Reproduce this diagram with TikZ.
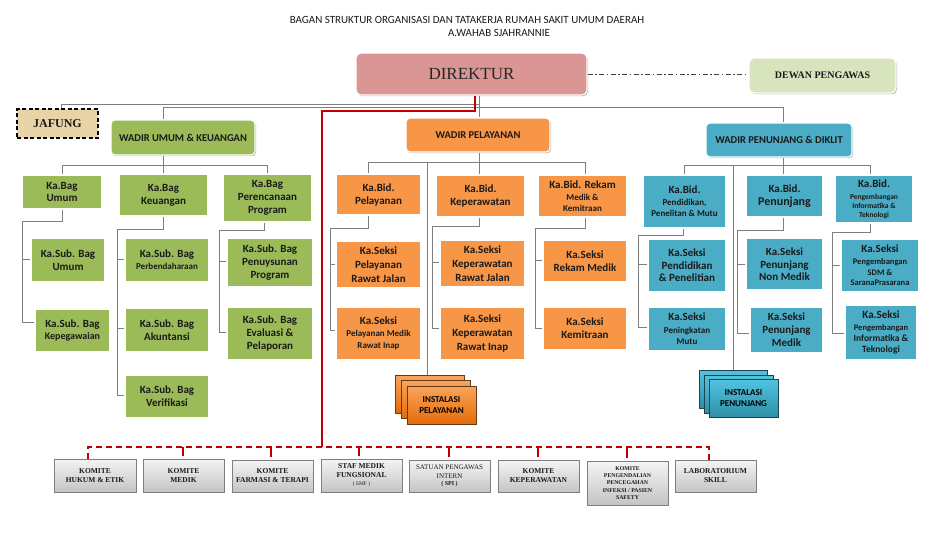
\documentclass[tikz,border=0pt]{standalone}
\usepackage{fontspec}
\setmainfont{Liberation Serif}
\newfontfamily\calfont{Carlito}
\usetikzlibrary{shadows,calc}
\definecolor{cgreen}{HTML}{9BBB59}
\definecolor{corange}{HTML}{F79646}
\definecolor{cteal}{HTML}{4BACC6}
\definecolor{cpink}{HTML}{D99694}
\definecolor{clgreen}{HTML}{D7E4BD}
\definecolor{ctan}{HTML}{E8D4A6}
\definecolor{cline}{HTML}{7F7F7F}
\definecolor{cred}{HTML}{C00000}
\definecolor{ctxt}{HTML}{1A1A1A}
\definecolor{cgtop}{HTML}{F4F4F4}
\definecolor{cgbot}{HTML}{C4C4C4}
\definecolor{cotop}{HTML}{FAA45A}
\definecolor{cobot}{HTML}{E46C0A}
\definecolor{cttop}{HTML}{52C4E0}
\definecolor{ctbot}{HTML}{2E8FA8}
\newcommand\fs[2]{\fontsize{#1}{#2}\selectfont}
\newcommand\sm{\bfseries\fs{9}{11}}
\newcommand\smm{\bfseries\fs{8.5}{10}}
\newcommand\xs{\bfseries\fs{7.5}{9}}
\newcommand\bx[7]{\node[#6, minimum width={#4-#2}, minimum height={#5-#3}] (#1) at ({(#2+#4)/2},{(#3+#5)/2}) {#7};}
\newcommand\grp[5]{%
  \coordinate (J1) at (#2,#3); \coordinate (J2) at (#4,#3);
  \draw[conn] (J1 |- #1.south) -- (J1) -- (J2);
  \foreach \cn/\yy in {#5}{\coordinate (B) at (#4,\yy); \draw[conn] (J2) -- (B) -- (B -| \cn.west);}
}
\tikzset{
  shad/.style={drop shadow={shadow xshift=1pt, shadow yshift=-1.2pt, opacity=0.3, fill=black}},
  base/.style={rectangle, draw=white, line width=1.2pt, inner sep=1pt, align=center, text=ctxt, font=\calfont\bfseries\fs{11}{13}, shad},
  gbox/.style={base, fill=cgreen},
  obox/.style={base, fill=corange},
  tbox/.style={base, fill=cteal},
  wbox/.style={base, rounded corners=4pt, font=\calfont\bfseries\fs{10.5}{12}},
  cbox/.style={rectangle, draw=cline, line width=0.8pt, top color=cgtop, bottom color=cgbot, inner sep=1pt, align=center, text=ctxt, font=\bfseries\fs{7.5}{9}, shad},
  iobox/.style={rectangle, draw=black!60!corange, line width=0.6pt, top color=cotop, bottom color=cobot, inner sep=1pt, align=center, text=black, font=\calfont\bfseries\fs{9}{11}, shad},
  itbox/.style={rectangle, draw=black!60!cteal, line width=0.6pt, top color=cttop, bottom color=ctbot, inner sep=1pt, align=center, text=black, font=\calfont\bfseries\fs{9}{11}, shad},
  conn/.style={draw=cline, line width=0.9pt},
  rline/.style={draw=cred, line width=1.5pt},
  rdash/.style={draw=cred, line width=1.5pt, dash pattern=on 6pt off 4pt},
}
\begin{document}
\begin{tikzpicture}[x=1pt,y=-1pt]
\useasboundingbox (0,0) rectangle (934,539);
\fill[white] (0,0) rectangle (934,539);
% title
\node[font=\calfont\fs{11}{13}, text=ctxt, inner sep=0pt] (t1) at (467,20) {BAGAN STRUKTUR ORGANISASI DAN TATAKERJA RUMAH SAKIT UMUM DAERAH};
\node[font=\calfont\fs{11}{13}, text=ctxt, inner sep=0pt] (t2) at (499,33) {A.WAHAB SJAHRANNIE};
% top
\bx{dir}{356}{53}{587}{95}{base, fill=cpink, rounded corners=5pt, font=\fs{17}{20}, text=black!85}{DIREKTUR}
\bx{dew}{749}{58}{896}{93}{base, fill=clgreen, rounded corners=5pt, font=\bfseries\fs{10}{12}}{DEWAN PENGAWAS}
\bx{jaf}{17}{109}{98}{138}{rectangle, fill=ctan, draw=black, line width=1.5pt, dash pattern=on 4pt off 2.5pt, font=\bfseries\fs{12}{14}, text=ctxt}{JAFUNG}
\bx{wU}{111}{120}{255}{155}{wbox, fill=cgreen}{WADIR UMUM \& KEUANGAN}
\bx{wP}{406}{118}{550}{152}{wbox, fill=corange}{WADIR PELAYANAN}
\bx{wJ}{706}{123}{852}{157}{wbox, fill=cteal}{WADIR PENUNJANG \& DIKLIT}
% left group
\bx{bagU}{22}{175}{102}{209}{gbox}{Ka.Bag\\[-1pt]Umum}
\bx{bagK}{119}{174}{208}{216}{gbox}{Ka.Bag\\Keuangan}
\bx{bagP}{223}{174}{312}{222}{gbox}{Ka.Bag\\Perencanaan\\Program}
\bx{subU}{31}{238}{105}{282}{gbox}{Ka.Sub. Bag\\Umum}
\bx{subKp}{35}{309}{110}{352}{gbox}{Ka.Sub. Bag\\[-1pt]\fs{10}{12}Kepegawaian}
\bx{subPb}{125}{238}{209}{282}{gbox}{Ka.Sub. Bag\\[-1pt]\sm Perbendaharaan}
\bx{subAk}{125}{308}{209}{352}{gbox}{Ka.Sub. Bag\\Akuntansi}
\bx{subVr}{125}{375}{209}{418}{gbox}{Ka.Sub. Bag\\Verifikasi}
\bx{subPn}{227}{238}{313}{287}{gbox}{Ka.Sub. Bag\\Penuysunan\\Program}
\bx{subEv}{227}{307}{313}{360}{gbox}{Ka.Sub. Bag\\Evaluasi \&\\Pelaporan}
% middle group
\bx{bidPl}{336}{174}{421}{215}{obox}{Ka.Bid.\\Pelayanan}
\bx{bidKp}{436}{175}{525}{217}{obox}{Ka.Bid.\\Keperawatan}
\bx{bidRm}{538}{175}{627}{217}{obox}{Ka.Bid. Rekam\\[-1pt]\sm Medik \&\\[-2pt]\sm Kemitraan}
\bx{skPlJ}{336}{241}{421}{288}{obox}{Ka.Seksi\\[1pt]Pelayanan\\[1pt]Rawat Jalan}
\bx{skPlI}{336}{307}{421}{360}{obox}{Ka.Seksi\\[-1pt]\sm Pelayanan Medik\\[-1pt]\sm Rawat Inap}
\bx{skKpJ}{440}{240}{525}{287}{obox}{Ka.Seksi\\[1pt]Keperawatan\\[1pt]Rawat Jalan}
\bx{skKpI}{440}{307}{525}{360}{obox}{Ka.Seksi\\[1pt]Keperawatan\\[1pt]Rawat Inap}
\bx{skRm}{543}{240}{627}{282}{obox}{Ka.Seksi\\Rekam Medik}
\bx{skKm}{543}{307}{627}{350}{obox}{Ka.Seksi\\Kemitraan}
\bx{instPl3}{395}{375}{464}{413}{iobox}{}
\bx{instPl2}{401}{380}{470}{418}{iobox}{}
\bx{instPl}{407}{386}{476}{424}{iobox}{INSTALASI\\PELAYANAN}
% right group
\bx{bidPd}{643}{175}{726}{228}{tbox}{Ka.Bid.\\[-1pt]\sm Pendidikan,\\[-2pt]\sm Penelitan \& Mutu}
\bx{bidPj}{746}{175}{823}{217}{tbox}{Ka.Bid.\\\fs{12}{14}Penunjang}
\bx{bidPg}{835}{175}{913}{223}{tbox}{Ka.Bid.\\[-1pt]\xs Pengembangan\\[-4pt]\xs Informatika \&\\[-4pt]\xs Teknologi}
\bx{skPd}{648}{239}{726}{292}{tbox}{Ka.Seksi\\Pendidikan\\[-1pt]\& Penelitian}
\bx{skMt}{648}{307}{726}{351}{tbox}{Ka.Seksi\\\sm Peningkatan\\[-2pt]\sm Mutu}
\bx{skNM}{746}{238}{823}{290}{tbox}{Ka.Seksi\\Penunjang\\[-1pt]Non Medik}
\bx{skMd}{750}{307}{823}{353}{tbox}{Ka.Seksi\\Penunjang\\Medik}
\bx{skSDM}{841}{239}{919}{292}{tbox}{Ka.Seksi\\[-1pt]\smm Pengembangan\\[-2pt]\smm SDM \&\\[-3pt]\smm SaranaPrasarana}
\bx{skIT}{845}{305}{917}{360}{tbox}{Ka.Seksi\\[-1pt]\smm Pengembangan\\[-2pt]\bfseries\fs{9.5}{11}Informatika \&\\[-2pt]\bfseries\fs{9.5}{11}Teknologi}
\bx{instPj3}{699}{370}{767}{408}{itbox}{}
\bx{instPj2}{704}{375}{773}{413}{itbox}{}
\bx{instPj}{709}{379}{778}{417}{itbox}{INSTALASI\\PENUNJANG}
% bottom committees
\bx{kHE}{54}{459}{136}{492}{cbox}{KOMITE\\HUKUM \& ETIK}
\bx{kMd}{143}{459}{224}{492}{cbox}{KOMITE\\MEDIK}
\bx{kFT}{232}{460}{313}{492}{cbox}{KOMITE\\FARMASI \& TERAPI}
\bx{kSMF}{321}{459}{402}{492}{cbox}{STAF MEDIK\\FUNGSIONAL\\[-1pt]\mdseries\fs{5.5}{7}( SMF )}
\bx{kSPI}{409}{460}{490}{492}{cbox, font=\fs{7}{8.5}}{SATUAN PENGAWAS\\INTERN\\[-1pt]\bfseries\fs{6}{7}( SPI )}
\bx{kKp}{498}{460}{579}{492}{cbox}{KOMITE\\KEPERAWATAN}
\bx{kPPI}{587}{461}{668}{505}{cbox, font=\bfseries\fs{5.8}{7.2}}{KOMITE\\PENGENDALIAN\\PENCEGAHAN\\INFEKSI / PASIEN\\SAFETY}
\bx{kLab}{675}{460}{756}{492}{cbox}{LABORATORIUM\\SKILL}
% top connectors
\draw[draw=black!75, line width=1pt, dash pattern=on 5pt off 2.5pt on 1.5pt off 2.5pt] (dir.east) -- (dir.east -| dew.west);
\coordinate (g0) at (479,104); \coordinate (gj) at (61,104);
\draw[conn] (g0 |- dir.south) -- (g0 |- wP.north);
\draw[conn] (g0) -- (gj) -- (gj |- jaf.north);
\coordinate (g1) at (163,107); \coordinate (g2) at (783,107);
\draw[conn] (g1 |- wU.north) -- (g1) -- (g2) -- (g2 |- wJ.north);
% red lines
\coordinate (r0) at (475,111); \coordinate (r1) at (322,111); \coordinate (r2) at (322,447);
\draw[rline] (r0 |- dir.south) -- (r0) -- (r1) -- (r2);
\coordinate (rl) at (88,447); \coordinate (rr) at (709,447);
\draw[rdash] (rl |- kHE.north) -- (rl) -- (rr) -- (rr |- kLab.north);
\foreach \n/\x in {kMd/183, kFT/271, kSMF/359, kSPI/449, kKp/538, kPPI/627}{\coordinate (q) at (\x,447); \draw[rline, line width=1.3pt] (q) -- ($(q |- \n.north)+(0,-3)$);}
% left connectors
\coordinate (Ku) at (163,165);
\draw[conn] (Ku |- wU.south) -- (Ku |- bagK.north);
\draw[conn] (bagU.north) -- (bagU.north |- Ku) -- (bagP.north |- Ku) -- (bagP.north);
\grp{bagU}{62}{221}{22}{subU/259, subKp/322}
\grp{bagK}{163}{229}{117}{subPb/259, subAk/328, subVr/395}
\grp{bagP}{264}{230}{219}{subPn/261, subEv/332}
% middle connectors
\coordinate (Pa) at (368,162); \coordinate (Pb) at (585,162); \coordinate (Pc) at (479,162); \coordinate (Pd) at (427,162);
\draw[conn] (Pa |- bidPl.north) -- (Pa) -- (Pb) -- (Pb |- bidRm.north);
\draw[conn] (Pc |- wP.south) -- (Pc |- bidKp.north);
\draw[conn] (Pd) -- (Pd |- instPl3.north);
\grp{bidPl}{368}{228}{330}{skPlJ/264, skPlI/330}
\grp{bidKp}{479}{226}{432}{skKpJ/262, skKpI/328}
\grp{bidRm}{585}{228}{535}{skRm/260, skKm/328}
% right connectors
\coordinate (Ra) at (684,165); \coordinate (Rb) at (870,165); \coordinate (Rc) at (783,165); \coordinate (Rd) at (733,165);
\draw[conn] (Ra |- bidPd.north) -- (Ra) -- (Rb) -- (Rb |- bidPg.north);
\draw[conn] (Rc |- wJ.south) -- (Rc |- bidPj.north);
\draw[conn] (Rd) -- (Rd |- instPj3.north);
\grp{bidPd}{683}{235}{638}{skPd/264, skMt/327}
\grp{bidPj}{783}{230}{737}{skNM/264, skMd/333}
\grp{bidPg}{870}{232}{832}{skSDM/265, skIT/333}
\end{tikzpicture}
\end{document}
